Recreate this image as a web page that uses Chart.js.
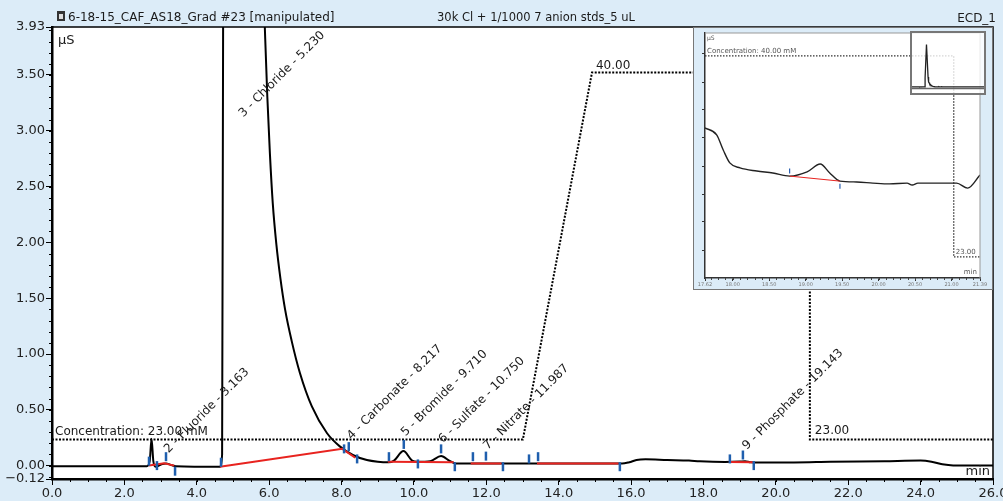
<!DOCTYPE html>
<html>
<head>
<meta charset="utf-8">
<script src="https://cdn.jsdelivr.net/npm/chart.js@4.4.1/dist/chart.umd.min.js"></script>
<style>
html, body { margin: 0; padding: 0; background: #dcecf8; }
#wrap { position: relative; width: 1003px; height: 501px; overflow: hidden; }
#main { position: absolute; left: 0; top: 0; }
#inset { position: absolute; left: 693px; top: 27px; }
#mini { position: absolute; left: 910px; top: 31px; }
</style>
</head>
<body>
<div id="wrap">
  <canvas id="main" width="1003" height="501"></canvas>
  <canvas id="inset" width="300" height="263"></canvas>
  <canvas id="mini" width="76" height="64"></canvas>
</div>
<script>
const FONT = "'DejaVu Sans', Verdana, sans-serif";

// chromatogram (min, µS)
const traceTimes  = [0, 2.62, 2.70, 2.75, 2.80, 2.86, 2.95, 3.05, 3.15, 3.30, 3.42, 4.64, 4.70, 4.73, 5.23, 5.80, 5.88, 5.95, 6.02, 6.10, 6.20, 6.31, 6.44, 6.62, 6.85, 7.18, 7.60, 7.96, 8.31, 8.70, 9.00, 9.30, 9.45, 9.71, 9.95, 10.10, 10.45, 10.75, 11.00, 11.15, 12.0, 13.0, 14.0, 15.0, 15.75, 15.95, 16.15, 16.40, 17.0, 17.6, 17.9, 18.6, 19.0, 19.15, 19.3, 19.6, 20.5, 21.5, 23.0, 24.0, 24.3, 24.6, 24.9, 26.0];
const traceValues = [-0.005, -0.005, 0.04, 0.24, 0.04, -0.01, 0.0, 0.015, 0.02, 0.005, -0.005, -0.01, 0.1, 4.3, 20, 4.7, 3.93, 3.30, 2.80, 2.35, 1.98, 1.68, 1.40, 1.12, 0.83, 0.53, 0.29, 0.17, 0.095, 0.05, 0.035, 0.03, 0.045, 0.13, 0.045, 0.035, 0.04, 0.085, 0.04, 0.02, 0.02, 0.018, 0.018, 0.018, 0.018, 0.03, 0.05, 0.056, 0.05, 0.045, 0.038, 0.032, 0.036, 0.04, 0.03, 0.028, 0.028, 0.034, 0.04, 0.045, 0.035, 0.012, 0.002, 0.002];

// integration baselines (null = gap)
const baseTimes  = [2.68, 3.10, 3.38, 3.5, 4.64, 8.02, 8.38, 8.5, 9.28, 11.10, 11.3, 11.57, 12.42, 12.6, 13.40, 15.66, 16.0, 18.70, 19.38];
const baseValues = [0.0, 0.02, 0.0, null, -0.01, 0.15, 0.07, null, 0.035, 0.03, null, 0.02, 0.02, null, 0.02, 0.02, null, 0.032, 0.03];

// peak start/end marks
const markTimes  = [2.68, 2.90, 3.15, 3.40, 4.67, 8.07, 8.20, 8.43, 9.31, 9.72, 10.11, 10.75, 11.13, 11.63, 11.99, 12.46, 13.18, 13.43, 15.69, 18.73, 19.09, 19.39];
const markValues = [0.04, 0.0, 0.08, -0.05, 0.03, 0.15, 0.17, 0.06, 0.08, 0.19, 0.015, 0.15, -0.01, 0.08, 0.085, -0.01, 0.06, 0.08, -0.01, 0.06, 0.095, 0.0];

// eluent concentration (mM)
const gradTimes = [0, 13.01, 14.92, 20.94, 20.94, 26];
const gradConc  = [23, 23, 40, 40, 23, 23];

const peakNames  = ['2 - Fluoride - 3.163', '3 - Chloride - 5.230', '4 - Carbonate - 8.217', '5 - Bromide - 9.710', '6 - Sulfate - 10.750', '7 - Nitrate - 11.987', '9 - Phosphate - 19.143'];
const peakTimes  = [3.163, 5.230, 8.217, 9.710, 10.750, 11.987, 19.143];
const peakLabelY = [0.11, 3.12, 0.23, 0.26, 0.20, 0.14, 0.14];

const xTicks = [0, 2, 4, 6, 8, 10, 12, 14, 16, 18, 20, 22, 24, 26];
const yTicks = [-0.12, 0, 0.5, 1.0, 1.5, 2.0, 2.5, 3.0, 3.5, 3.93];

// zoomed inset
const insetTimes  = [17.62, 17.78, 17.87, 17.96, 18.10, 18.33, 18.55, 18.78, 19.02, 19.20, 19.33, 19.47, 19.70, 19.92, 20.15, 20.39, 20.46, 20.54, 20.61, 20.84, 21.07, 21.22, 21.39];
const insetValues = [0.0436, 0.0411, 0.0357, 0.0311, 0.0293, 0.0282, 0.0275, 0.0264, 0.0279, 0.0307, 0.0275, 0.0246, 0.0243, 0.0239, 0.0236, 0.0239, 0.0232, 0.0239, 0.0239, 0.0239, 0.0239, 0.0221, 0.0268];
const insetBaseTimes  = [18.78, 19.47];
const insetBaseValues = [0.0264, 0.0246];
const insetMarkTimes  = [18.78, 19.47];
const insetMarkValues = [0.0282, 0.0228];
const insetGradTimes = [17.62, 21.03, 21.03, 21.39];
const insetGradConc  = [40, 40, 23, 23];
const insetXTicks = [17.62, 18.0, 18.5, 19.0, 19.5, 20.0, 20.5, 21.0, 21.39];
const insetYTicks = [0.0, 0.01, 0.02, 0.03, 0.04, 0.05, 0.06, 0.07];

const pts = (xs, ys) => xs.map((x, i) => ({x: x, y: ys[i]}));
const setTicks = list => scale => { scale.ticks = list.map(v => ({value: v})); };

const paper = {
  id: 'paper',
  beforeDraw(chart, args, o) {
    const {ctx, chartArea: a} = chart;
    ctx.save();
    ctx.fillStyle = o.outer;
    ctx.fillRect(0, 0, chart.width, chart.height);
    ctx.fillStyle = o.inner;
    ctx.fillRect(a.left, a.top, a.right - a.left, a.bottom - a.top);
    ctx.restore();
  },
  afterDraw(chart, args, o) {
    const {ctx, chartArea: a} = chart;
    ctx.save();
    ctx.strokeStyle = o.frame;
    ctx.lineWidth = o.frameWidth;
    ctx.beginPath();
    ctx.moveTo(a.left, a.top); ctx.lineTo(a.right, a.top); ctx.lineTo(a.right, a.bottom);
    ctx.stroke();
    if (o.edge) {
      ctx.strokeStyle = o.edge;
      ctx.lineWidth = 1;
      ctx.strokeRect(0.5, 0.5, chart.width - 1, chart.height - 1);
    }
    ctx.restore();
  }
};

const minorTicks = {
  id: 'minorTicks',
  afterDraw(chart, args, o) {
    const {ctx, chartArea: a, scales} = chart;
    ctx.save();
    ctx.strokeStyle = o.color;
    ctx.lineWidth = 1;
    if (o.xStep) {
      const sx = scales.x;
      for (let v = Math.ceil(sx.min / o.xStep) * o.xStep; v <= sx.max + 1e-9; v += o.xStep) {
        const px = Math.round(sx.getPixelForValue(v)) + 0.5;
        ctx.beginPath(); ctx.moveTo(px, a.bottom); ctx.lineTo(px, a.bottom + o.len); ctx.stroke();
      }
    }
    if (o.yStep) {
      const sy = scales.y;
      for (let v = Math.ceil(sy.min / o.yStep) * o.yStep; v <= sy.max + 1e-9; v += o.yStep) {
        const py = Math.round(sy.getPixelForValue(v)) + 0.5;
        ctx.beginPath(); ctx.moveTo(a.left, py); ctx.lineTo(a.left - o.len, py); ctx.stroke();
      }
    }
    ctx.restore();
  }
};

const mainText = {
  id: 'mainText',
  afterDraw(chart) {
    const {ctx, chartArea: a, scales: {x, y, yc}} = chart;
    ctx.save();
    ctx.fillStyle = '#1a1a1a';
    ctx.textBaseline = 'alphabetic';

    // title bar
    ctx.fillStyle = '#333';
    ctx.fillRect(57, 11, 8, 10);
    ctx.fillStyle = '#ddd';
    ctx.fillRect(59, 14, 4, 5);
    ctx.fillStyle = '#1a1a1a';
    ctx.font = '12px ' + FONT;
    ctx.textAlign = 'left';
    ctx.fillText('6-18-15_CAF_AS18_Grad #23 [manipulated]', 68, 21);
    ctx.font = '11.5px ' + FONT;
    ctx.textAlign = 'center';
    ctx.fillText('30k Cl + 1/1000 7 anion stds_5 uL', 536, 21);
    ctx.textAlign = 'right';
    ctx.font = '12px ' + FONT;
    ctx.fillText('ECD_1', 996, 22);

    // units
    ctx.font = '13px ' + FONT;
    ctx.textAlign = 'left';
    ctx.fillText('µS', a.left + 6, a.top + 17);
    ctx.textAlign = 'right';
    ctx.fillText('min', a.right - 3, a.bottom - 4);

    // gradient annotations
    ctx.font = '12px ' + FONT;
    ctx.textAlign = 'left';
    ctx.fillText('Concentration: 23.00 mM', a.left + 3, yc.getPixelForValue(23) - 4);
    ctx.fillText('40.00', x.getPixelForValue(gradTimes[2]) + 4, yc.getPixelForValue(40) - 4);
    ctx.fillText('23.00', x.getPixelForValue(gradTimes[4]) + 5, yc.getPixelForValue(23) - 5);

    // peak labels
    peakNames.forEach((n, i) => {
      ctx.save();
      ctx.translate(x.getPixelForValue(peakTimes[i]) + 2, y.getPixelForValue(peakLabelY[i]));
      ctx.rotate(-Math.PI / 4);
      ctx.fillText(n, 0, 0);
      ctx.restore();
    });
    ctx.restore();
  }
};

new Chart(document.getElementById('main'), {
  type: 'line',
  data: {
    datasets: [
      {
        data: pts(markTimes, markValues),
        showLine: false,
        pointStyle: 'line',
        pointRotation: 90,
        pointRadius: 4.5,
        pointBorderWidth: 2.5,
        pointBorderColor: '#1f5fae',
        order: 0
      },
      {
        data: pts(baseTimes, baseValues),
        borderColor: '#e8231f',
        borderWidth: 2,
        pointRadius: 0,
        spanGaps: false,
        order: 1
      },
      {
        data: pts(traceTimes, traceValues),
        borderColor: '#000',
        borderWidth: 2,
        pointRadius: 0,
        cubicInterpolationMode: 'monotone',
        order: 2
      },
      {
        data: pts(gradTimes, gradConc),
        yAxisID: 'yc',
        borderColor: '#000',
        borderWidth: 2,
        borderDash: [2, 1.5],
        pointRadius: 0,
        order: 3
      }
    ]
  },
  options: {
    responsive: false,
    animation: false,
    events: [],
    layout: { padding: { top: 27, right: 10, left: 0, bottom: 0 } },
    plugins: {
      legend: { display: false },
      tooltip: { enabled: false },
      paper: { outer: '#dcecf8', inner: '#ffffff', frame: '#000', frameWidth: 1.5 },
      minorTicks: { xStep: 0.5, yStep: 0.1, len: 3, color: '#000' }
    },
    scales: {
      x: {
        type: 'linear',
        min: 0,
        max: 26,
        afterBuildTicks: setTicks(xTicks),
        afterFit: s => { s.height = 22; s.paddingLeft = 0; s.paddingRight = 0; },
        ticks: {
          autoSkip: false, maxRotation: 0, padding: 1, color: '#222',
          font: { family: FONT, size: 13 },
          callback: v => v.toFixed(1)
        },
        grid: { drawOnChartArea: false, drawTicks: true, tickLength: 6, color: '#000' },
        border: { display: true, width: 2.5, color: '#000' }
      },
      y: {
        type: 'linear',
        min: -0.12,
        max: 3.93,
        afterBuildTicks: setTicks(yTicks),
        afterFit: s => { s.width = 52; s.paddingTop = 0; s.paddingBottom = 0; },
        ticks: {
          autoSkip: false, padding: 1, color: '#222',
          font: { family: FONT, size: 13 },
          callback: v => (v < 0 ? '\u2212' + Math.abs(v).toFixed(2) : v.toFixed(2))
        },
        grid: { drawOnChartArea: false, drawTicks: true, tickLength: 6, color: '#000' },
        border: { display: true, width: 2.5, color: '#000' }
      },
      yc: { type: 'linear', display: false, min: 21.17, max: 42.11 }
    }
  },
  plugins: [paper, minorTicks, mainText]
});

// inset
const insetText = {
  id: 'insetText',
  afterDraw(chart) {
    const {ctx, chartArea: a, scales: {x, yc}} = chart;
    ctx.save();
    ctx.fillStyle = '#555';
    ctx.textBaseline = 'alphabetic';
    ctx.textAlign = 'left';
    ctx.font = '6px ' + FONT;
    ctx.fillText('µS', a.left + 2, a.top + 7);
    ctx.font = '7px ' + FONT;
    ctx.fillText('Concentration: 40.00 mM', a.left + 2, yc.getPixelForValue(40) - 3);
    ctx.fillText('23.00', x.getPixelForValue(insetGradTimes[2]) + 2, yc.getPixelForValue(23) - 3);
    ctx.textAlign = 'right';
    ctx.fillText('min', a.right - 3, a.bottom - 4);
    ctx.restore();
  }
};

new Chart(document.getElementById('inset'), {
  type: 'line',
  data: {
    datasets: [
      {
        data: pts(insetMarkTimes, insetMarkValues),
        showLine: false,
        pointStyle: 'line',
        pointRotation: 90,
        pointRadius: 2.5,
        pointBorderWidth: 1.2,
        pointBorderColor: '#2a5fb0',
        order: 0
      },
      {
        data: pts(insetBaseTimes, insetBaseValues),
        borderColor: '#e8231f',
        borderWidth: 1,
        pointRadius: 0,
        order: 1
      },
      {
        data: pts(insetTimes, insetValues),
        borderColor: '#222',
        borderWidth: 1.4,
        pointRadius: 0,
        cubicInterpolationMode: 'monotone',
        order: 2
      },
      {
        data: pts(insetGradTimes, insetGradConc),
        yAxisID: 'yc',
        borderColor: '#333',
        borderWidth: 1.3,
        borderDash: [1.5, 1.5],
        pointRadius: 0,
        order: 3
      }
    ]
  },
  options: {
    responsive: false,
    animation: false,
    events: [],
    layout: { padding: { top: 6, right: 13, left: 0, bottom: 0 } },
    plugins: {
      legend: { display: false },
      tooltip: { enabled: false },
      paper: { outer: '#dcecf8', inner: '#ffffff', frame: '#999', frameWidth: 1, edge: '#777' },
      minorTicks: { xStep: 0.1, yStep: 0, len: 2, color: '#444' }
    },
    scales: {
      x: {
        type: 'linear',
        min: 17.62,
        max: 21.39,
        afterBuildTicks: setTicks(insetXTicks),
        afterFit: s => { s.height = 12; s.paddingLeft = 0; s.paddingRight = 0; },
        ticks: {
          autoSkip: false, maxRotation: 0, padding: 1, color: '#777',
          font: { family: FONT, size: 5 },
          callback: v => v.toFixed(2)
        },
        grid: { drawOnChartArea: false, drawTicks: true, tickLength: 3, color: '#333' },
        border: { display: true, width: 1.5, color: '#333' }
      },
      y: {
        type: 'linear',
        min: -0.01,
        max: 0.0775,
        afterBuildTicks: setTicks(insetYTicks),
        afterFit: s => { s.width = 12; s.paddingTop = 0; s.paddingBottom = 0; },
        ticks: { display: false },
        grid: { drawOnChartArea: false, drawTicks: true, tickLength: 3, color: '#333' },
        border: { display: true, width: 1.5, color: '#333' }
      },
      yc: { type: 'linear', display: false, min: 21.22, max: 41.94 }
    }
  },
  plugins: [paper, minorTicks, insetText]
});

// overview thumbnail of the full run
new Chart(document.getElementById('mini'), {
  type: 'line',
  data: {
    datasets: [{
      data: pts(traceTimes, traceValues),
      borderColor: '#222',
      borderWidth: 1.3,
      pointRadius: 0
    }]
  },
  options: {
    responsive: false,
    animation: false,
    events: [],
    layout: { padding: { top: 2, right: 2, left: 2, bottom: 7 } },
    plugins: {
      legend: { display: false },
      tooltip: { enabled: false },
      paper: { outer: 'rgba(255,255,255,0.8)', inner: 'rgba(255,255,255,0)', frame: 'rgba(0,0,0,0)', frameWidth: 0, edge: '#777' }
    },
    scales: {
      x: { type: 'linear', display: false, min: 0, max: 26 },
      y: {
        type: 'linear', display: false, min: -0.5, max: 25.5
      }
    }
  },
  plugins: [paper, {
    id: 'miniAxis',
    afterDraw(chart) {
      const {ctx, chartArea: a} = chart;
      ctx.save();
      ctx.strokeStyle = '#666';
      ctx.lineWidth = 1.5;
      ctx.beginPath();
      ctx.moveTo(0, a.bottom + 0.5); ctx.lineTo(chart.width, a.bottom + 0.5);
      ctx.stroke();
      ctx.strokeStyle = '#777';
      ctx.lineWidth = 2;
      ctx.strokeRect(1, 1, chart.width - 2, chart.height - 2);
      ctx.restore();
    }
  }]
});
</script>
</body>
</html>
